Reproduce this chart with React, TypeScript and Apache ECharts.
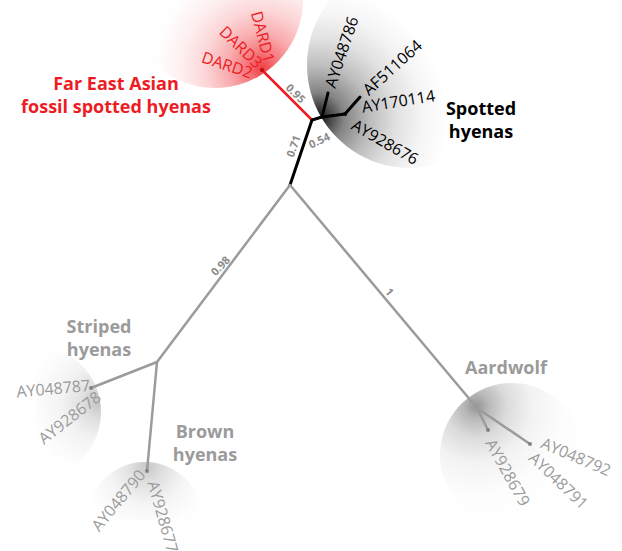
import React, { useEffect, useRef } from "react";
import * as echarts from "echarts";

// ---- Tree data (unrooted layout coordinates) ----
const nodeNames = [
  "root", "spottedBase", "spottedNode", "spottedSub", "DARD", "AY048786tip", "AF511064tip",
  "stripedBrown", "stripedTip", "brownTip", "aardNode", "aardTip1", "aardTip2",
];
const nodeX = [290, 312, 322, 345, 262, 328, 360, 157, 91, 147, 477, 530, 488];
const nodeY = [185, 120, 117, 114, 70, 93, 97, 362, 388, 471, 408, 444, 430];

// branches: from -> to, clade
const branchFrom = [0, 1, 1, 2, 2, 3, 0, 7, 7, 0, 10, 10];
const branchTo = [1, 4, 2, 5, 3, 6, 7, 8, 9, 10, 11, 12];
const branchClade = ["spotted", "fossil", "spotted", "spotted", "spotted", "spotted", "other", "other", "other", "other", "other", "other"];

// tip labels
const tipLabels = [
  "DARD1", "DARD3", "DARD2",
  "AY048786", "AF511064", "AY170114", "AY928676",
  "AY048787", "AY928678",
  "AY048790", "AY928677",
  "AY928679", "AY048791", "AY048792",
];
const tipNode = [4, 4, 4, 5, 6, 3, 3, 8, 8, 9, 9, 12, 11, 11];
const tipClade = ["fossil", "fossil", "fossil", "spotted", "spotted", "spotted", "spotted", "other", "other", "other", "other", "other", "other", "other"];

// support values on branches
const supportValues = ["0.95", "0.71", "0.54", "0.98", "1"];
const supportBranch = [1, 0, 2, 6, 9];

// dots at tips
const dotNodes = [4, 3, 8, 9, 11, 12];

// clade names
const cladeNames = ["Far East Asian\nfossil spotted hyenas", "Spotted\nhyenas", "Striped\nhyenas", "Brown\nhyenas", "Aardwolf"];
const cladeNameClade = ["fossil", "spotted", "other", "other", "other"];

// ---- Layout / styles (kept apart from data) ----
const cladeColor: Record<string, string> = { spotted: "#000000", fossil: "#ed1c24", other: "#9b9b9b" };
const cladeWidth: Record<string, number> = { spotted: 3, fossil: 2.5, other: 2.5 };

const tipAngle = [-75, -44, -18.5, 71.6, 42, 9, -30, 5, 38, 50.4, -74, -61, -43.5, -23];
const tipAlign = ["right", "right", "right", "left", "left", "left", "left", "right", "right", "right", "left", "left", "left", "left"];
const tipDx = [8, -2, -10, 1.6, 5, 16.7, 8.3, -1, 7.6, -5.3, 6, 2, 2, 12];
const tipDy = [-8, -5, 3, -6, -5.3, -7.3, 9.3, -3, 6.7, 0.7, 10, 10, 11, -2];

const supAngle = [-45, 70, 25, 47, -50];
const supDx = [9, -8, 2, -3.5, 6.5];
const supDy = [-2, -6.5, 21.5, -8, -5];

const cladeLabelX = [116, 481, 99, 205, 506];
const cladeLabelY = [94, 119, 337, 442, 367];

const FONT = '"Open Sans", "Noto Sans", sans-serif';

export default function App() {
  const ref = useRef<HTMLDivElement>(null);

  useEffect(() => {
    const chart = echarts.init(ref.current!, null, { renderer: "svg" });

    const branchData = branchFrom.map((f, i) => {
      const t = branchTo[i];
      const c = branchClade[i];
      return {
        coords: [[nodeX[f], nodeY[f]], [nodeX[t], nodeY[t]]],
        lineStyle: { color: cladeColor[c], width: cladeWidth[c] },
      };
    });

    const tipData = tipLabels.map((_, i) => [nodeX[tipNode[i]], nodeY[tipNode[i]], i]);
    const supData = supportValues.map((_, i) => {
      const b = supportBranch[i];
      const f = branchFrom[b];
      const t = branchTo[b];
      return [(nodeX[f] + nodeX[t]) / 2, (nodeY[f] + nodeY[t]) / 2, i];
    });
    const dotData = dotNodes.map((n) => ({
      value: [nodeX[n], nodeY[n]],
      itemStyle: { color: n === 4 ? "#b00000" : n === 3 ? "#000" : "#777" },
    }));

    const radial = (cx: number, cy: number, r: number, rgb: string, stops: number[][]) => ({
      type: "radial",
      x: cx,
      y: cy,
      r,
      global: true,
      colorStops: stops.map(([o, a]) => ({ offset: o, color: `rgba(${rgb},${a})` })),
    });

    const blobs: any[] = [
      {
        type: "circle",
        z: 0,
        silent: true,
        shape: { cx: 215, cy: 0, r: 88 },
        style: { fill: radial(262, 68, 115, "237,28,36", [[0, 0.85], [0.12, 0.62], [0.3, 0.36], [0.5, 0.18], [0.7, 0.07], [0.9, 0.01], [1, 0]]) },
      },
      {
        type: "circle",
        z: 0,
        silent: true,
        shape: { cx: 410, cy: 65, r: 103 },
        style: { fill: radial(318, 118, 130, "0,0,0", [[0, 0.95], [0.06, 0.8], [0.2, 0.48], [0.4, 0.26], [0.6, 0.12], [0.8, 0.04], [1, 0]]) },
      },
      {
        type: "sector",
        z: 0,
        silent: true,
        shape: { cx: 35, cy: 412, r: 66, r0: 0, startAngle: -Math.PI / 2, endAngle: Math.PI / 2, clockwise: true },
        style: { fill: radial(100, 402, 75, "0,0,0", [[0, 0.24], [0.25, 0.12], [0.5, 0.05], [0.8, 0.015], [1, 0]]) },
      },
      {
        type: "sector",
        z: 0,
        silent: true,
        shape: { cx: 145, cy: 520, r: 58, r0: 0, startAngle: Math.PI, endAngle: Math.PI * 2, clockwise: true },
        style: { fill: radial(147, 466, 70, "0,0,0", [[0, 0.22], [0.25, 0.12], [0.55, 0.04], [0.85, 0.01], [1, 0]]) },
      },
      {
        type: "circle",
        z: 0,
        silent: true,
        shape: { cx: 512, cy: 455, r: 72 },
        style: { fill: radial(476, 406, 125, "0,0,0", [[0, 0.42], [0.1, 0.28], [0.25, 0.14], [0.45, 0.05], [0.7, 0.01], [1, 0]]) },
      },
    ];

    const cladeTexts = cladeNames.map((t, i) => ({
      type: "text",
      z: 10,
      silent: true,
      x: cladeLabelX[i],
      y: cladeLabelY[i],
      style: {
        text: t,
        fill: cladeColor[cladeNameClade[i]],
        font: `bold 18px ${FONT}`,
        align: "center",
        verticalAlign: "middle",
        lineHeight: 23,
      },
    }));

    chart.setOption({
      animation: false,
      backgroundColor: "#ffffff",
      grid: { left: 0, right: 0, top: 0, bottom: 0 },
      xAxis: { type: "value", min: 0, max: 622, show: false },
      yAxis: { type: "value", min: 0, max: 551, inverse: true, show: false },
      graphic: { elements: [...blobs, ...cladeTexts] },
      series: [
        {
          type: "lines",
          coordinateSystem: "cartesian2d",
          z: 3,
          silent: true,
          lineStyle: { cap: "round", opacity: 1 },
          data: branchData,
        },
        {
          type: "scatter",
          z: 4,
          silent: true,
          symbol: "rect",
          symbolSize: 3.5,
          data: dotData,
        },
        {
          type: "custom",
          z: 5,
          silent: true,
          data: tipData,
          renderItem: (_params: any, api: any) => {
            const i = api.value(2);
            const p = api.coord([api.value(0), api.value(1)]);
            return {
              type: "text",
              x: p[0] + tipDx[i],
              y: p[1] + tipDy[i],
              rotation: (tipAngle[i] * Math.PI) / 180,
              style: {
                text: tipLabels[i],
                fill: cladeColor[tipClade[i]],
                font: `16px ${FONT}`,
                align: tipAlign[i],
                verticalAlign: "middle",
              },
            };
          },
        },
        {
          type: "custom",
          z: 5,
          silent: true,
          data: supData,
          renderItem: (_params: any, api: any) => {
            const i = api.value(2);
            const p = api.coord([api.value(0), api.value(1)]);
            return {
              type: "text",
              x: p[0] + supDx[i],
              y: p[1] + supDy[i],
              rotation: (supAngle[i] * Math.PI) / 180,
              style: {
                text: supportValues[i],
                fill: "#8a8a8a",
                font: `bold 11px ${FONT}`,
                align: "center",
                verticalAlign: "middle",
              },
            };
          },
        },
      ],
    });

    return () => chart.dispose();
  }, []);

  return (
    <div
      ref={ref}
      style={{ position: "absolute", left: 0, top: 0, width: 622, height: 551, background: "#ffffff" }}
    />
  );
}
